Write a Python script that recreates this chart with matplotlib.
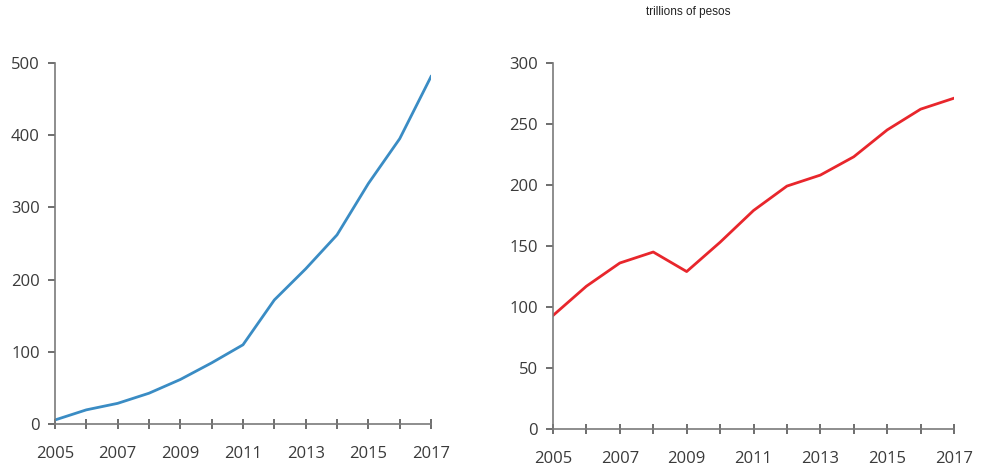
import matplotlib
matplotlib.use("Agg")
import matplotlib.pyplot as plt

years = list(range(2005, 2018))
left_values = [6, 20, 29, 43, 62, 85, 110, 172, 215, 262, 333, 395, 481]
right_values = [93, 117, 136, 145, 129, 153, 179, 199, 208, 223, 245, 262, 271]
left_yticks = [0, 100, 200, 300, 400, 500]
right_yticks = [0, 50, 100, 150, 200, 250, 300]
label_years = [2005, 2007, 2009, 2011, 2013, 2015, 2017]
title_text = "trillions of pesos"

plt.rcParams['font.family'] = ['Open Sans', 'DejaVu Sans']

fig = plt.figure(figsize=(9.81, 4.72), dpi=100)
ax1 = fig.add_axes([0.056, 0.101, 0.3834, 0.766])
ax2 = fig.add_axes([0.5637, 0.091, 0.4088, 0.776])

def style(ax, values, color, yticks, ymax):
    ax.plot(years, values, color=color, lw=2.0)
    ax.set_xlim(2005, 2017)
    ax.set_ylim(0, ymax)
    ax.set_yticks(yticks)
    ax.set_xticks(years)
    ax.set_xticklabels([str(y) if y in label_years else "" for y in years])
    for s in ['top', 'right']:
        ax.spines[s].set_visible(False)
    for s in ['left', 'bottom']:
        ax.spines[s].set_color('#7a7a7a')
        ax.spines[s].set_linewidth(1.2)
    ax.tick_params(axis='x', direction='inout', length=7, width=1.2, color='#555555',
                   labelsize=12, labelcolor='#3a3a3a', pad=12)
    ax.tick_params(axis='y', direction='out', length=5, width=1.2, color='#555555',
                   labelsize=12, labelcolor='#3a3a3a', pad=6)

style(ax1, left_values, '#3a8cc4', left_yticks, 500)
style(ax2, right_values, '#e8262c', right_yticks, 300)

fig.text(0.702, 0.974, title_text, ha='center', va='center', fontsize=8.5,
         color='#222222', family=['Liberation Sans', 'DejaVu Sans'])

fig.savefig("out.png", dpi=100)
